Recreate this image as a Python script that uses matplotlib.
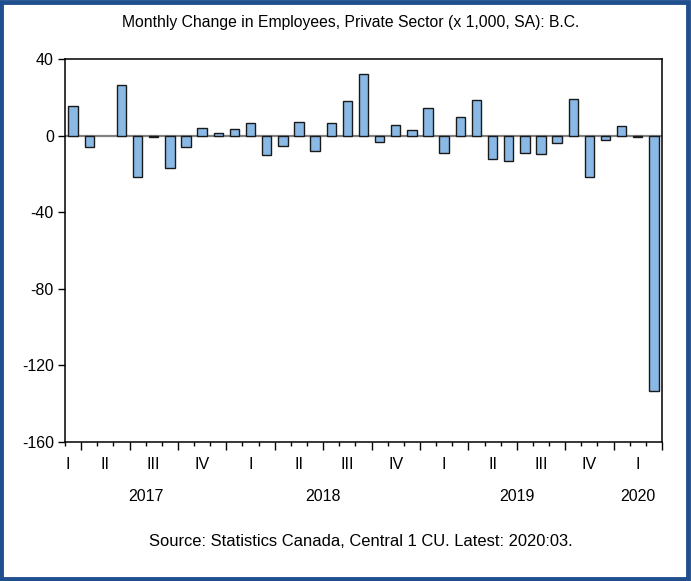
import matplotlib as mpl
import matplotlib.pyplot as plt
import matplotlib.patches as mpatches
import numpy as np

mpl.rcParams['font.family'] = ['Liberation Sans', 'DejaVu Sans']

# Monthly change, 2017:03 .. 2020:03 (thousands, SA)
start_year = 2017
start_month = 3
changes = [15.3, -5.9, 0.0, 26.3, -21.8, -0.8, -16.9, -5.9, 3.8, 1.4,
           3.7, 6.8, -10.1, -5.4, 7.3, -8.2, 6.4, 18.1, 32.2, -3.3,
           5.6, 3.0, 14.4, -8.9, 9.6, 18.4, -12.2, -13.2, -9.0, -9.6,
           -3.7, 19.0, -21.8, -2.3, 4.9, -0.7, -133.2]
y_ticks = [40, 0, -40, -80, -120, -160]
quarter_names = ['I', 'II', 'III', 'IV']
title = 'Monthly Change in Employees, Private Sector (x 1,000, SA): B.C.'
source = 'Source: Statistics Canada, Central 1 CU. Latest: 2020:03.'

n = len(changes)
x = np.arange(n)
months = [(start_year + (start_month - 1 + i) // 12, (start_month - 1 + i) % 12 + 1) for i in range(n)]

fig = plt.figure(figsize=(6.91, 5.81), dpi=100)
ax = fig.add_axes([65 / 691, 1 - 442 / 581, 597 / 691, 383 / 581])

ax.axhline(0, color='#808080', linewidth=1.6, zorder=1)
nonzero = [i for i in range(n) if changes[i] != 0]
ax.bar(x[nonzero], [changes[i] for i in nonzero], width=0.58, color='#8BB9E6',
       edgecolor='#1a1a1a', linewidth=1.0, zorder=2)

ax.set_xlim(-0.5, n - 0.5)
ax.set_ylim(-160, 40)
ax.set_yticks(y_ticks)
ax.set_yticklabels([str(v) for v in y_ticks], fontsize=11.5)
ax.tick_params(axis='y', direction='out', length=5, width=1, pad=3)

# month boundary ticks, longer at quarter starts
bounds = np.arange(n + 1) - 0.5
ax.set_xticks(bounds, minor=True)
major = [b for i, b in enumerate(bounds[:-1]) if months[i][1] in (1, 4, 7, 10)] + [bounds[-1]]
ax.set_xticks(major)
ax.set_xticklabels([])
ax.tick_params(axis='x', which='major', direction='out', length=6, width=1)
ax.tick_params(axis='x', which='minor', direction='out', length=3, width=1)

for s in ax.spines.values():
    s.set_linewidth(1.1)

# quarter and year labels
quarters = {}
years = {}
for i, (yr, mo) in enumerate(months):
    quarters.setdefault((yr, (mo - 1) // 3), []).append(i)
    years.setdefault(yr, []).append(i)
trans = ax.get_xaxis_transform()
for (yr, q), idx in quarters.items():
    xpos = np.mean(idx) if len(idx) > 1 else idx[0] - 0.3
    ax.text(xpos, -0.060, quarter_names[q], transform=trans, ha='center', va='center',
            fontsize=11.5)
for yr, idx in years.items():
    ax.text(np.mean(idx), -0.141, str(yr), transform=trans, ha='center', va='center',
            fontsize=11.5)

fig.text(351 / 691, 1 - 22 / 581, title, ha='center', va='center', fontsize=11.3)
fig.text(361 / 691, 1 - 542 / 581, source, ha='center', va='center', fontsize=11.9)

fig.patches.append(mpatches.Rectangle((0.002, 0.003), 0.994, 0.994, transform=fig.transFigure,
                                      fill=False, edgecolor='#1F4F8F', linewidth=3.5))

fig.savefig('out.png', dpi=100)
